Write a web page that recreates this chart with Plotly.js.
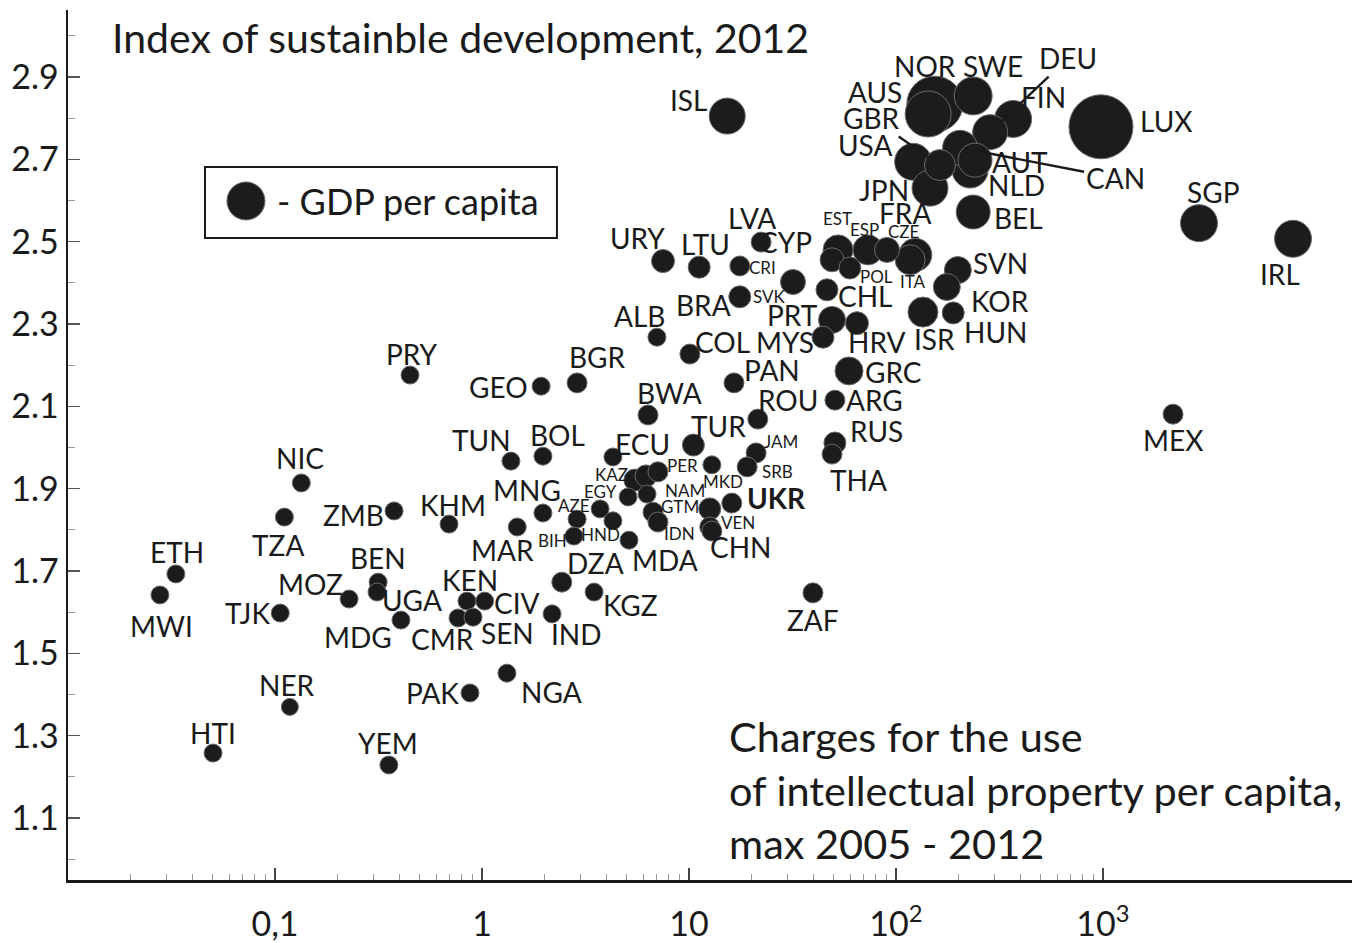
<!DOCTYPE html>
<html>
<head>
<meta charset="utf-8">
<script src="https://cdn.plot.ly/plotly-3.0.1.min.js"></script>
<style>html,body{margin:0;padding:0;background:#fff;}#chart{width:1362px;height:943px;}</style>
</head>
<body>
<div id="chart"></div>
<script>
// ---- data ----
const codes = ['ISL','NOR','AUS','SWE','DEU','FIN','GBR','USA','CAN','AUT','NLD','JPN','FRA','BEL','LUX','SGP','IRL','ITA','LVA','CYP','EST','ESP','CZE','POL','URY','LTU','CRI','BRA','SVK','CHL','ALB','PRT','COL','MYS','HRV','ISR','HUN','SVN','KOR','GRC','PAN','ARG','ROU','RUS','THA','PRY','GEO','BGR','BWA','TUR','TUN','BOL','ECU','JAM','SRB','PER','KAZ','','','MKD','UKR','VEN','CHN','NAM','EGY','GTM','IDN','AZE','','HND','BIH','MDA','MNG','MAR','KHM','ZMB','NIC','TZA','ETH','MWI','TJK','MOZ','BEN','UGA','MDG','KEN','CIV','CMR','SEN','DZA','KGZ','IND','PAK','NGA','NER','HTI','YEM','MEX','ZAF'];

// charges for the use of intellectual property per capita (x, log scale)
const charges = [15.3,154,143,236,285,368,163,121,204,241,228,146,124,236,978,2910,8280,117,22.3,52.5,49.1,73.2,90.5,59.9,7.49,11.2,17.6,17.6,31.8,46.4,7.0,49.1,10.1,44.4,64.8,135,189,199,176,59.3,16.5,50.7,21.5,50.7,49.1,0.449,1.93,2.88,6.34,10.5,1.38,1.97,4.29,21.1,19.1,12.9,5.48,6.20,7.08,12.6,16.1,12.6,12.9,6.27,5.08,6.70,7.08,3.72,4.29,2.88,2.78,5.13,1.97,1.48,0.693,0.376,0.134,0.111,0.0332,0.0278,0.106,0.228,0.315,0.311,0.406,0.846,1.03,0.766,0.905,2.43,3.48,2.18,0.875,1.32,0.118,0.0502,0.355,2180,39.7];

// index of sustainable development, 2012 (y)
const sdIndex = [2.805,2.834,2.810,2.854,2.766,2.798,2.686,2.694,2.728,2.698,2.674,2.630,2.468,2.572,2.779,2.545,2.507,2.456,2.499,2.480,2.456,2.480,2.480,2.436,2.453,2.438,2.441,2.366,2.402,2.383,2.268,2.310,2.227,2.268,2.302,2.329,2.327,2.431,2.390,2.186,2.157,2.115,2.069,2.011,1.984,2.176,2.149,2.157,2.079,2.006,1.967,1.979,1.977,1.987,1.953,1.958,1.921,1.931,1.941,1.851,1.865,1.807,1.797,1.887,1.880,1.843,1.819,1.851,1.822,1.826,1.785,1.775,1.841,1.807,1.814,1.846,1.914,1.831,1.693,1.642,1.598,1.632,1.673,1.649,1.581,1.627,1.627,1.586,1.588,1.673,1.649,1.596,1.404,1.452,1.370,1.258,1.229,2.081,1.647];

// GDP per capita (bubble size, thousand USD)
const gdp = [42,82,62,46,40,44,32,44,40,38,42,42,36,38,98,44,44,30,10,30,18,30,20,14,16,14,10,14,20,14,6,24,10,14,16,30,14,24,24,26,10,10,10,14,10,6,6,10,10,14,6,6,6,10,10,6,14,14,10,14,10,10,10,6,6,10,10,6,6,6,6,6,6,6,6,6,6,6,6,6,6,6,6,6,6,6,6,6,6,10,6,6,6,6,4,6,6,10,10];

// tick labels
const xTickVals = [0.1, 1, 10, 100, 1000];
const xTickText = ['0,1', '1', '10', '10<sup>2</sup>', '10<sup>3</sup>'];
const yTickVals = [1.1, 1.3, 1.5, 1.7, 1.9, 2.1, 2.3, 2.5, 2.7, 2.9];
const yTickText = ['1.1', '1.3', '1.5', '1.7', '1.9', '2.1', '2.3', '2.5', '2.7', '2.9'];

// ---- label placement (pixel offsets from each bubble; style: L large, S small, B bold, A with leader line) ----
const labelPlace = {
ISL:[-39,-16,'L'],NOR:[-10,-38,'L'],AUS:[-53,-22,'L'],SWE:[20,-30,'L'],DEU:[78,-74,'A'],FIN:[30,-22,'L'],GBR:[-68,-47,'A'],USA:[-48,-17,'L'],CAN:[155,30,'A'],AUT:[45,2,'L'],NLD:[46,15,'L'],JPN:[-46,2,'L'],FRA:[-10,-42,'L'],BEL:[45,6,'L'],LUX:[65,-6,'L'],SGP:[14,-31,'L'],IRL:[-13,35,'L'],ITA:[3,22,'S'],LVA:[-9,-24,'L'],CYP:[-53,-8,'L'],EST:[5,-41,'S'],ESP:[-3,-20,'S'],CZE:[17,-18,'S'],POL:[27,8,'S'],URY:[-26,-23,'L'],LTU:[6,-23,'L'],CRI:[23,2,'S'],BRA:[-36,8,'L'],SVK:[-23,14,'S'],CHL:[38,6,'L'],ALB:[-17,-21,'L'],PRT:[-40,-5,'L'],COL:[33,-12,'L'],MYS:[-38,5,'L'],HRV:[20,19,'L'],ISR:[12,27,'L'],HUN:[42,19,'L'],SVN:[43,-7,'L'],KOR:[53,14,'L'],GRC:[44,1,'L'],PAN:[38,-13,'L'],ARG:[40,0,'L'],ROU:[30,-19,'L'],RUS:[42,-12,'L'],THA:[26,26,'L'],PRY:[2,-21,'L'],GEO:[-43,1,'L'],BGR:[20,-26,'L'],BWA:[21,-22,'L'],TUR:[25,-19,'L'],TUN:[-29,-21,'L'],BOL:[15,-21,'L'],ECU:[30,-13,'L'],JAM:[25,-11,'S'],SRB:[30,5,'S'],PER:[-29,1,'S'],KAZ:[-23,-6,'S'],MKD:[13,-27,'S'],UKR:[45,-5,'B'],VEN:[28,-4,'S'],CHN:[29,16,'L'],NAM:[38,-4,'S'],EGY:[-28,-5,'S'],GTM:[27,-6,'S'],IDN:[22,11,'S'],AZE:[-26,-3,'S'],HND:[23,15,'S'],BIH:[-21,4,'S'],MDA:[36,20,'L'],MNG:[-16,-23,'L'],MAR:[-15,23,'L'],KHM:[4,-19,'L'],ZMB:[-41,4,'L'],NIC:[-1,-25,'L'],TZA:[-6,28,'L'],ETH:[1,-22,'L'],MWI:[2,31,'L'],TJK:[-33,0,'L'],MOZ:[-39,-15,'L'],BEN:[0,-24,'L'],UGA:[35,8,'L'],MDG:[-43,17,'L'],KEN:[3,-21,'L'],CIV:[32,2,'L'],CMR:[-16,21,'L'],SEN:[34,16,'L'],DZA:[34,-19,'L'],KGZ:[36,13,'L'],IND:[24,20,'L'],PAK:[-37,0,'L'],NGA:[45,19,'L'],NER:[-3,-22,'L'],HTI:[0,-20,'L'],YEM:[-1,-22,'L'],MEX:[0,26,'L'],ZAF:[0,27,'L']
};

const INK = '#1a1a1a';
const FONT = 'Lato, "Open Sans", sans-serif';
const sizeOf = g => 15 + 0.5 * g;

// draw larger bubbles first
const order = codes.map((c, i) => i).sort((a, b) => gdp[b] - gdp[a]);

const trace = {
  type: 'scatter', mode: 'markers',
  x: order.map(i => charges[i]),
  y: order.map(i => sdIndex[i]),
  text: order.map(i => codes[i]),
  hoverinfo: 'text+x+y',
  marker: {
    size: order.map(i => sizeOf(gdp[i])),
    sizemode: 'diameter',
    opacity: 1,
    color: '#1c1c1c',
    line: {color: '#6a6a6a', width: 1}
  }
};

const annotations = [];
codes.forEach((c, i) => {
  const p = labelPlace[c];
  if (!c || !p) return;
  const [dx, dy, st] = p;
  const base = {
    x: Math.log10(charges[i]), y: sdIndex[i], xref: 'x', yref: 'y',
    text: st === 'B' ? '<b>' + c + '</b>' : c,
    font: {family: FONT, size: st === 'S' ? 17 : 28, color: INK},
    xanchor: 'center', yanchor: 'middle'
  };
  if (st === 'A') {
    Object.assign(base, {showarrow: true, ax: dx, ay: dy, arrowhead: 0,
      arrowwidth: 2.4, arrowcolor: INK, standoff: sizeOf(gdp[i]) / 2 - 2});
  } else {
    Object.assign(base, {showarrow: false, xshift: dx, yshift: -dy});
  }
  annotations.push(base);
});

// title and axis captions
annotations.push({xref: 'paper', yref: 'paper', x: 0.033, y: 0.968, xanchor: 'left', yanchor: 'middle',
  text: 'Index of sustainble development, 2012', showarrow: false, font: {family: FONT, size: 41, color: INK}});
const capLines = ['Charges for the use', 'of intellectual property per capita,', 'max 2005 - 2012'];
const capY = [0.165, 0.104, 0.042];
capLines.forEach((t, k) => annotations.push({xref: 'paper', yref: 'paper', x: 0.5133, y: capY[k],
  xanchor: 'left', yanchor: 'middle', text: t, showarrow: false, font: {family: FONT, size: 41.5, color: INK}}));
// legend text
annotations.push({xref: 'paper', yref: 'paper', x: 0.1612, y: 0.7805, xanchor: 'left', yanchor: 'middle',
  text: '- GDP per capita', showarrow: false, font: {family: FONT, size: 36, color: INK}});

const shapes = [
  {type: 'rect', xref: 'paper', yref: 'paper', x0: 0.1067, x1: 0.3808, y0: 0.7379, y1: 0.8195,
   line: {color: INK, width: 2}, fillcolor: 'rgba(0,0,0,0)'},
  {type: 'circle', xref: 'paper', yref: 'paper', xsizemode: 'pixel', ysizemode: 'pixel',
   xanchor: 0.1386, yanchor: 0.7805, x0: -19, x1: 19, y0: -19, y1: 19,
   fillcolor: '#1c1c1c', line: {color: '#6a6a6a', width: 1}}
];

const minorX = [];
for (let d = -2; d <= 2; d++) for (let k = 2; k <= 9; k++) minorX.push(k * Math.pow(10, d));
const minorY = [];
for (let v = 10; v <= 30; v += 2) minorY.push(v / 10);

const layout = {
  width: 1362, height: 943,
  margin: {l: 68, r: 10, t: 10, b: 63},
  paper_bgcolor: '#fff', plot_bgcolor: '#fff',
  showlegend: false,
  font: {family: FONT, color: INK},
  xaxis: {
    type: 'log', range: [-2.0, 4.203],
    tickmode: 'array', tickvals: xTickVals, ticktext: xTickText,
    ticks: 'inside', ticklen: 12, tickwidth: 1.2, tickcolor: '#444',
    showline: true, linewidth: 3, linecolor: INK,
    showgrid: false, zeroline: false,
    tickfont: {family: FONT, size: 34, color: INK},
    ticklabelstandoff: 12,
    minor: {tickmode: 'array', tickvals: minorX, ticks: 'inside', ticklen: 6, tickwidth: 1, tickcolor: '#999', showgrid: false}
  },
  yaxis: {
    range: [0.9496, 3.0627],
    tickmode: 'array', tickvals: yTickVals, ticktext: yTickText,
    ticks: 'inside', ticklen: 12, tickwidth: 1.2, tickcolor: '#555',
    showline: true, linewidth: 2.5, linecolor: INK,
    showgrid: false, zeroline: false,
    tickfont: {family: FONT, size: 34, color: INK},
    ticklabelstandoff: 0,
    minor: {tickmode: 'array', tickvals: minorY, ticks: 'inside', ticklen: 7, tickwidth: 1, tickcolor: '#999', showgrid: false}
  },
  annotations: annotations,
  shapes: shapes
};

Plotly.newPlot('chart', [trace], layout, {displayModeBar: false, staticPlot: true});
</script>
</body>
</html>
